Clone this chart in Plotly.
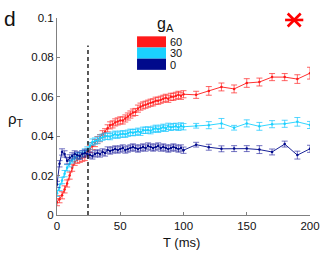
import plotly.graph_objects as go

# ---------------- data ----------------
T_dense = [0, 2, 4, 6, 8, 10, 12, 14, 16, 18, 20, 22, 24, 26, 28, 30, 32, 34, 36, 38,
           40, 42, 44, 46, 48, 50, 52, 54, 56, 58, 60, 62, 64, 66, 68, 70, 72, 74, 76, 78,
           80, 82, 84, 86, 88, 90, 92, 94, 96, 98, 100]
T_sparse = [110, 120, 130, 140, 150, 160, 170, 180, 190, 200]

rho_60_dense = [0.0065, 0.008, 0.010, 0.013, 0.016, 0.020, 0.024, 0.027, 0.028, 0.0285,
                0.029, 0.0295, 0.032, 0.0335, 0.035, 0.0365, 0.038, 0.039, 0.041, 0.042,
                0.044, 0.0455, 0.046, 0.047, 0.0475, 0.048, 0.048, 0.049, 0.050, 0.051,
                0.052, 0.0523, 0.054, 0.055, 0.0556, 0.056, 0.0565, 0.057, 0.0572, 0.058,
                0.058, 0.0585, 0.059, 0.0595, 0.059, 0.060, 0.060, 0.0605, 0.061, 0.0605,
                0.0613]
rho_60_sparse = [0.061, 0.063, 0.065, 0.064, 0.067, 0.0675, 0.070, 0.070, 0.069, 0.072]
err_60_dense = 0.0018
err_60_sparse = [0.0018, 0.0022, 0.0020, 0.0020, 0.0022, 0.0020, 0.0018, 0.0018, 0.0022, 0.0030]

rho_30_dense = [0.011, 0.014, 0.0175, 0.021, 0.024, 0.026, 0.028, 0.029, 0.030, 0.030,
                0.031, 0.032, 0.033, 0.035, 0.037, 0.0375, 0.038, 0.039, 0.0395, 0.040,
                0.040, 0.0398, 0.0405, 0.041, 0.0405, 0.041, 0.0412, 0.041, 0.0415, 0.042,
                0.0418, 0.042, 0.0425, 0.042, 0.043, 0.043, 0.0432, 0.0428, 0.0435, 0.044,
                0.0435, 0.044, 0.0445, 0.044, 0.045, 0.0445, 0.0448, 0.045, 0.0445, 0.0452,
                0.0448]
rho_30_sparse = [0.0453, 0.0456, 0.0465, 0.0443, 0.0465, 0.045, 0.0461, 0.0463, 0.0473, 0.0457]
err_30_dense = 0.0016
err_30_sparse = [0.0012, 0.0018, 0.0025, 0.0012, 0.0018, 0.0020, 0.0018, 0.0018, 0.0022, 0.0018]

rho_0_dense = [0.0155, 0.026, 0.032, 0.031, 0.0275, 0.029, 0.030, 0.031, 0.0305, 0.030,
               0.031, 0.0315, 0.031, 0.0305, 0.030, 0.031, 0.0315, 0.031, 0.032, 0.0315,
               0.033, 0.0325, 0.033, 0.0335, 0.033, 0.0335, 0.034, 0.033, 0.0335, 0.034,
               0.0345, 0.034, 0.0335, 0.034, 0.0345, 0.034, 0.035, 0.0345, 0.034, 0.0345,
               0.035, 0.034, 0.0345, 0.034, 0.0335, 0.034, 0.0345, 0.034, 0.0335, 0.034,
               0.0329]
rho_0_sparse = [0.0357, 0.0344, 0.0336, 0.0337, 0.0337, 0.0332, 0.032, 0.036, 0.0304, 0.0336]
err_0_dense = 0.0016
err_0_sparse = [0.0012, 0.0015, 0.0015, 0.0015, 0.0015, 0.0020, 0.0015, 0.0015, 0.0020, 0.0018]

gA_labels = ["60", "30", "0"]
colors = ["#ff1a1a", "#1ad1ff", "#000a8c"]
err_colors = ["rgba(255,50,50,0.75)", "rgba(30,200,255,0.75)", "rgba(40,40,160,0.65)"]
dash_T = 24.5
dash_top = 0.086
star_T, star_rho = 187.5, 0.099

x_ticks = [0, 50, 100, 150, 200]
y_ticks = [0, 0.02, 0.04, 0.06, 0.08, 0.1]
y_tick_text = ["0", "0.02", "0.04", "0.06", "0.08", "0.1"]

# ---------------- figure ----------------
W, H = 332, 261
ML, MR, MT, MB = 57, 18, 14, 46
PW, PH = W - ML - MR, H - MT - MB


def px(x):
    return (x - ML) / PW


def py(y):
    return (H - MB - y) / PH


series = [
    (rho_60_dense, rho_60_sparse, err_60_dense, err_60_sparse),
    (rho_30_dense, rho_30_sparse, err_30_dense, err_30_sparse),
    (rho_0_dense, rho_0_sparse, err_0_dense, err_0_sparse),
]

fig = go.Figure()
T_all = T_dense + T_sparse
for (dense, sparse, ed, es), c, ec, lab in zip(series, colors, err_colors, gA_labels):
    errs = [ed] * len(dense) + es
    fig.add_trace(go.Scatter(
        x=T_all, y=dense + sparse, mode="lines+markers",
        line=dict(color=c, width=0.9),
        marker=dict(color=c, size=2.5),
        error_y=dict(type="data", array=errs, visible=True,
                     color=ec, thickness=1, width=3),
        name=lab, showlegend=False,
    ))

# asterisk
for sym in ["line-ew-open", "x-thin-open"]:
    fig.add_trace(go.Scatter(
        x=[star_T], y=[star_rho], mode="markers",
        marker=dict(symbol=sym, size=13, color="#ff0000",
                    line=dict(color="#ff0000", width=2.6)),
        showlegend=False, cliponaxis=False,
    ))

shapes = [dict(type="line", xref="x", yref="y", x0=dash_T, x1=dash_T, y0=0, y1=dash_top,
               line=dict(color="black", width=1.3, dash="4px,3px"))]

# legend boxes
box_top = 32.7
box_h = 11.4
for i, c in enumerate(colors):
    shapes.append(dict(type="rect", xref="paper", yref="paper",
                       x0=px(138.3), x1=px(167.7),
                       y0=py(box_top + (i + 1) * box_h), y1=py(box_top + i * box_h),
                       fillcolor=c, line=dict(width=0)))

annotations = []
for i, lab in enumerate(gA_labels):
    annotations.append(dict(x=px(169.5), y=py(box_top + (i + 0.5) * box_h + 0.3),
                            xref="paper", yref="paper", text=lab, showarrow=False,
                            xanchor="left", yanchor="middle",
                            font=dict(size=11, color="#111")))
annotations += [
    dict(x=px(167), y=py(21), xref="paper", yref="paper", text="g<sub>A</sub>",
         showarrow=False, xanchor="center", yanchor="middle", font=dict(size=16, color="#111")),
    dict(x=px(9), y=py(15), xref="paper", yref="paper", text="d",
         showarrow=False, xanchor="center", yanchor="middle", font=dict(size=21, color="#111")),
    dict(x=px(15), y=py(118), xref="paper", yref="paper", text="ρ<sub>T</sub>",
         showarrow=False, xanchor="center", yanchor="middle", font=dict(size=15, color="#111")),
    dict(x=px(183), y=py(243), xref="paper", yref="paper", text="T (ms)",
         showarrow=False, xanchor="center", yanchor="middle", font=dict(size=13, color="#111")),
]

axis_common = dict(showgrid=False, zeroline=False, showline=True, linecolor="#808080",
                   linewidth=1, ticks="inside", ticklen=3, tickcolor="#808080",
                   tickfont=dict(size=11.5, color="#111"))

fig.update_layout(
    width=W, height=H,
    margin=dict(l=ML, r=MR, t=MT, b=MB, pad=0),
    paper_bgcolor="white", plot_bgcolor="white",
    font=dict(family="Liberation Sans, Arial, sans-serif"),
    xaxis=dict(range=[0, 200], tickvals=x_ticks, **axis_common),
    yaxis=dict(range=[0, 0.1], tickvals=y_ticks, ticktext=y_tick_text, **axis_common),
    shapes=shapes, annotations=annotations,
)

fig.write_html("out.html", config={"displayModeBar": False},
               post_script="document.body.style.margin='0px';document.body.style.overflow='hidden';")
